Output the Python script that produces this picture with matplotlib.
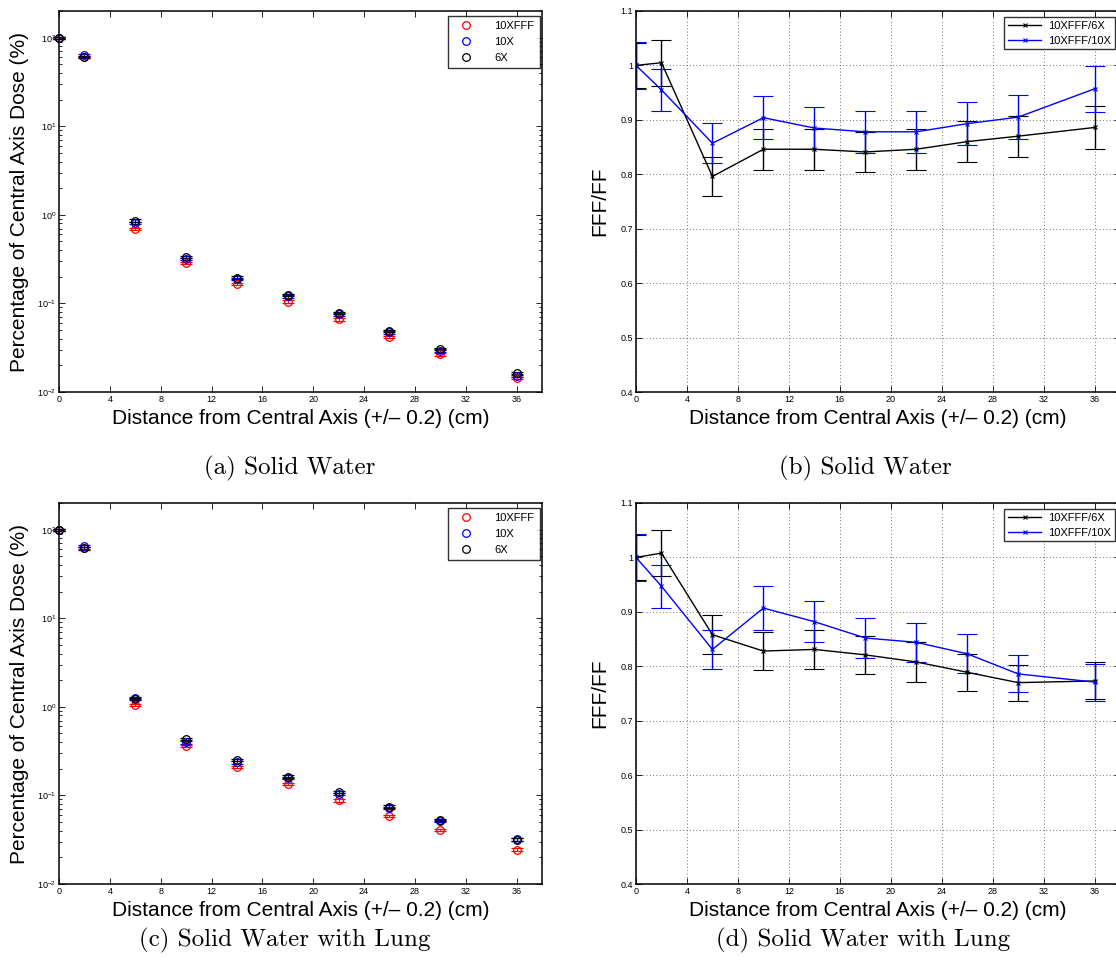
import matplotlib
matplotlib.use("Agg")
import matplotlib.pyplot as plt
import numpy as np
from matplotlib.ticker import LogLocator, FixedLocator, FuncFormatter

plt.rcParams["font.family"] = ["Liberation Sans", "DejaVu Sans"]
plt.rcParams["mathtext.fontset"] = "custom"
plt.rcParams["mathtext.rm"] = "Liberation Sans"
plt.rcParams["mathtext.it"] = "Liberation Sans:italic"

# ── data ────────────────────────────────────────────────────────────────────
dist = [0, 2, 6, 10, 14, 18, 22, 26, 30, 36]

# (a) Solid Water, % of central axis dose
sw_10xfff = [100, 60.3, 0.69, 0.285, 0.166, 0.105, 0.066, 0.042, 0.0266, 0.0144]
sw_10x    = [100, 63.1, 0.81, 0.315, 0.188, 0.120, 0.075, 0.047, 0.0294, 0.0151]
sw_6x     = [100, 60.0, 0.86, 0.337, 0.196, 0.125, 0.078, 0.0488, 0.0306, 0.0163]

# (c) Solid Water with Lung
lung_10xfff = [100, 62.0, 1.05, 0.360, 0.208, 0.134, 0.088, 0.059, 0.0408, 0.0245]
lung_10x    = [100, 65.5, 1.26, 0.397, 0.236, 0.157, 0.104, 0.0717, 0.0519, 0.0318]
lung_6x     = [100, 61.5, 1.22, 0.435, 0.250, 0.163, 0.109, 0.0748, 0.0530, 0.0317]

# relative uncertainty on the dose points
dose_rel_err = [0.03, 0.03, 0.03, 0.03, 0.03, 0.03, 0.03, 0.03, 0.03, 0.03]

# (b) ratios, Solid Water
sw_r6   = [1.000, 1.005, 0.796, 0.846, 0.846, 0.841, 0.846, 0.860, 0.870, 0.886]
sw_r6e  = [0.042, 0.042, 0.035, 0.038, 0.038, 0.037, 0.038, 0.037, 0.038, 0.040]
sw_r10  = [1.000, 0.955, 0.857, 0.904, 0.885, 0.878, 0.878, 0.893, 0.905, 0.957]
sw_r10e = [0.043, 0.039, 0.037, 0.040, 0.038, 0.038, 0.038, 0.039, 0.040, 0.042]

# (d) ratios, Solid Water with Lung
lung_r6   = [1.000, 1.008, 0.858, 0.828, 0.831, 0.821, 0.808, 0.789, 0.770, 0.773]
lung_r6e  = [0.042, 0.042, 0.036, 0.035, 0.036, 0.035, 0.036, 0.034, 0.033, 0.034]
lung_r10  = [1.000, 0.947, 0.831, 0.907, 0.882, 0.852, 0.844, 0.823, 0.786, 0.771]
lung_r10e = [0.043, 0.039, 0.036, 0.040, 0.038, 0.037, 0.036, 0.036, 0.034, 0.034]

xticks = [0, 4, 8, 12, 16, 20, 24, 28, 32, 36]
ratio_ticks = [0.4, 0.5, 0.6, 0.7, 0.8, 0.9, 1.0, 1.1]

XLABEL = "Distance from Central Axis (+/\u2013 0.2) (cm)"
W, H = 1116, 977


def px_axes(fig, left, top, right, bottom):
    return fig.add_axes([left / W, 1 - bottom / H, (right - left) / W, (bottom - top) / H])


def style_common(ax):
    ax.set_xlim(0, 38)
    ax.set_xticks(xticks)
    ax.tick_params(which="both", direction="in", top=True, right=True,
                   labelsize=6.5, pad=2)
    ax.tick_params(which="major", length=4.5, width=0.6)
    ax.tick_params(which="minor", length=2.5, width=0.6)
    for s in ax.spines.values():
        s.set_linewidth(1.1)
    ax.set_xlabel(XLABEL, fontsize=15, labelpad=4)


def dose_panel(ax, fff, x10, x6):
    for vals, col, lab in [(fff, "red", "10XFFF"), (x10, "blue", "10X"), (x6, "black", "6X")]:
        v = np.array(vals)
        ax.errorbar(dist, v, yerr=v * np.array(dose_rel_err), fmt="o", color=col,
                    mfc="none", mec=col, ms=5.5, mew=0.9, elinewidth=0.7,
                    capsize=4, capthick=0.8, label=lab, clip_on=False)
    ax.set_yscale("log")
    ax.set_ylim(0.01, 200)
    ax.yaxis.set_major_locator(LogLocator(base=10, numticks=10))
    ax.yaxis.set_minor_locator(LogLocator(base=10, subs=np.arange(2, 10), numticks=20))
    style_common(ax)
    ax.set_ylabel("Percentage of Central Axis Dose (%)", fontsize=15, labelpad=6)
    handles, labels = ax.get_legend_handles_labels()
    handles = [h[0] for h in handles]
    leg = ax.legend(handles, labels, loc="upper right", bbox_to_anchor=(0.995, 0.987),
                    fontsize=8, frameon=True, fancybox=False, edgecolor="black",
                    borderpad=0.45, handlelength=2.3, handletextpad=1.4,
                    labelspacing=0.55, borderaxespad=0)
    leg.get_frame().set_linewidth(1.0)


def ratio_panel(ax, r6, r6e, r10, r10e):
    ax.errorbar(dist, r6, yerr=r6e, color="black", marker="x", ms=3.5, mew=0.8,
                lw=1.0, elinewidth=1.0, capsize=7, capthick=1.0, label="10XFFF/6X")
    ax.errorbar(dist, r10, yerr=r10e, color="blue", marker="x", ms=3.5, mew=0.8,
                lw=1.0, elinewidth=1.0, capsize=7, capthick=1.0, label="10XFFF/10X")
    ax.set_ylim(0.4, 1.1)
    ax.yaxis.set_major_locator(FixedLocator(ratio_ticks))
    ax.yaxis.set_major_formatter(FuncFormatter(lambda v, p: f"{v:g}"))
    style_common(ax)
    ax.grid(True, which="major", linestyle=(0, (1, 3)), color="#444444", lw=0.6)
    ax.set_ylabel("FFF/FF", fontsize=15, labelpad=8)
    handles, labels = ax.get_legend_handles_labels()
    handles = [h[0] for h in handles]
    leg = ax.legend(handles, labels, loc="upper left",
                    bbox_to_anchor=((1004 - 636) / 484, 0.985),
                    fontsize=8, frameon=True, fancybox=False, edgecolor="black",
                    borderpad=0.35, handlelength=3.0, handletextpad=0.6,
                    labelspacing=0.45, borderaxespad=0)
    leg.get_frame().set_linewidth(1.0)


fig = plt.figure(figsize=(W / 100, H / 100), dpi=100)

ax_a = px_axes(fig, 59, 11, 542, 392)
ax_b = px_axes(fig, 636, 11, 1120, 392)
ax_c = px_axes(fig, 59, 503, 542, 884)
ax_d = px_axes(fig, 636, 503, 1120, 884)

dose_panel(ax_a, sw_10xfff, sw_10x, sw_6x)
ratio_panel(ax_b, sw_r6, sw_r6e, sw_r10, sw_r10e)
dose_panel(ax_c, lung_10xfff, lung_10x, lung_6x)
ratio_panel(ax_d, lung_r6, lung_r6e, lung_r10, lung_r10e)

captions = [(290, 468, "(a) Solid Water"), (865, 468, "(b) Solid Water"),
            (285, 940, "(c) Solid Water with Lung"), (863, 940, "(d) Solid Water with Lung")]
for cx, cy, txt in captions:
    fig.text(cx / W, 1 - cy / H, txt, ha="center", va="center",
             fontsize=18, family="cmr10")

fig.savefig("out.png", dpi=100)
